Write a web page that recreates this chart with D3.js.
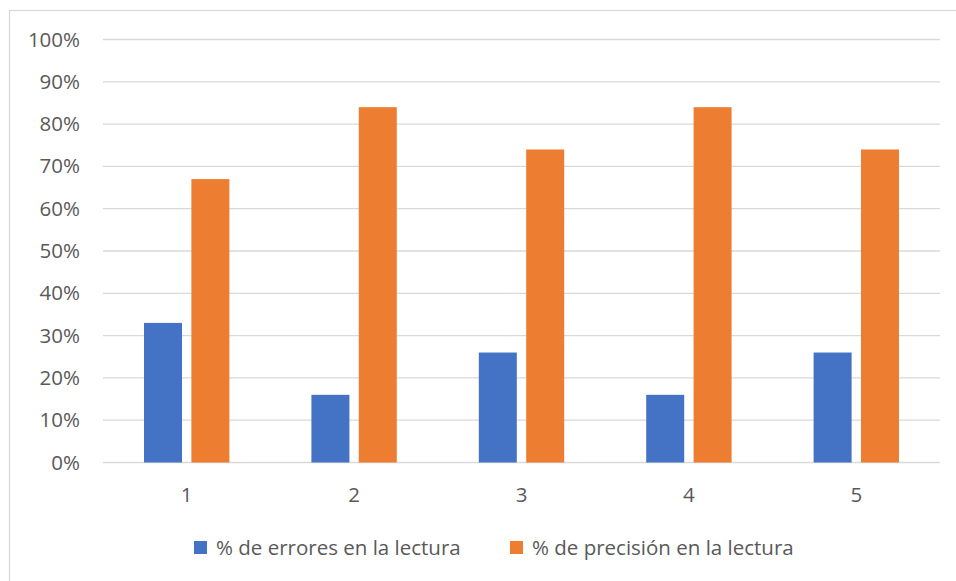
<!DOCTYPE html>
<html>
<head>
<meta charset="utf-8">
<script src="https://cdn.jsdelivr.net/npm/d3@7"></script>
<style>
  html, body { margin: 0; padding: 0; background: #fff; }
  svg { display: block; font-family: "Open Sans", sans-serif; }
</style>
</head>
<body>
<svg id="chart" width="956" height="581"></svg>
<script>
const categories = ["1", "2", "3", "4", "5"];
const seriesNames = ["% de errores en la lectura", "% de precisión en la lectura"];
const errores = [33, 16, 26, 16, 26];
const precision = [67, 84, 74, 84, 74];
const yTicks = [0, 10, 20, 30, 40, 50, 60, 70, 80, 90, 100];
const colors = ["#4472C4", "#ED7D31"];

const svg = d3.select("#chart");
const W = 956, H = 581;
const plot = { left: 103, right: 940, top: 39.5, bottom: 462.5 };

// chart border (only left/top visible within frame)
svg.append("rect")
  .attr("x", 9.5).attr("y", 10.5)
  .attr("width", W + 10).attr("height", H + 10)
  .attr("fill", "none").attr("stroke", "#d9d9d9").attr("stroke-width", 1.3);

const y = d3.scaleLinear().domain([0, 100]).range([plot.bottom, plot.top]);
const x0 = d3.scaleBand().domain(categories).range([plot.left, plot.right]).padding(0);
const groupW = x0.bandwidth() * 0.51;
const x1 = d3.scaleBand().domain([0, 1])
  .range([(x0.bandwidth() - groupW) / 2, (x0.bandwidth() + groupW) / 2])
  .paddingInner(0.198).paddingOuter(0);

// gridlines
svg.append("g").selectAll("line").data(yTicks).join("line")
  .attr("x1", plot.left).attr("x2", plot.right)
  .attr("y1", d => y(d)).attr("y2", d => y(d))
  .attr("stroke", "#d9d9d9").attr("stroke-width", 1.3);

// y axis labels
const yAxis = d3.axisLeft(y).tickValues(yTicks).tickFormat(d => d + "%").tickSize(0).tickPadding(0);
const gy = svg.append("g").attr("transform", `translate(80,0)`).call(yAxis);
gy.select(".domain").remove();
gy.selectAll("text")
  .attr("fill", "#595959").attr("font-size", "20.5px")
  .attr("font-family", "'Open Sans', sans-serif");

// bars
const data = categories.map((c, i) => ({ c, vals: [errores[i], precision[i]] }));
const groups = svg.append("g").selectAll("g").data(data).join("g")
  .attr("transform", d => `translate(${x0(d.c)},0)`);
groups.selectAll("rect").data(d => d.vals.map((v, k) => ({ v, k }))).join("rect")
  .attr("x", d => x1(d.k)).attr("width", x1.bandwidth())
  .attr("y", d => y(d.v)).attr("height", d => y(0) - y(d.v))
  .attr("fill", d => colors[d.k]);

// x axis labels
const xAxis = d3.axisBottom(x0).tickSize(0).tickPadding(0);
const gx = svg.append("g").attr("transform", `translate(0,${plot.bottom + 25})`).call(xAxis);
gx.select(".domain").remove();
gx.selectAll("text")
  .attr("fill", "#595959").attr("font-size", "20.5px")
  .attr("font-family", "'Open Sans', sans-serif");

// legend
const legendX = [194, 510];
const lg = svg.append("g").selectAll("g").data(seriesNames).join("g")
  .attr("transform", (d, i) => `translate(${legendX[i]},541)`);
lg.append("rect").attr("width", 13).attr("height", 13).attr("fill", (d, i) => colors[i]);
lg.append("text").attr("x", 22).attr("y", 14)
  .attr("fill", "#595959").attr("font-size", "20.5px")
  .text(d => d);
</script>
</body>
</html>
